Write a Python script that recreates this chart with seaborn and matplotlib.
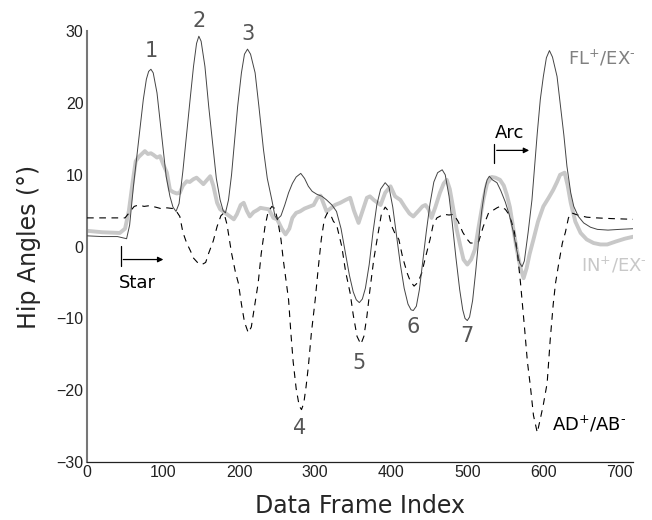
import matplotlib
matplotlib.use("Agg")
import matplotlib.pyplot as plt
import seaborn as sns
import numpy as np

# FL+/EX- (thin solid)
fl_x = [0, 20, 40, 48, 52, 56, 61, 66, 70, 74, 78, 81, 84, 87, 92, 96, 100, 104, 109, 113, 117,
        121, 126, 131, 136, 140, 144, 147, 150, 155, 160, 166, 170, 175, 179, 182,
        186, 190, 193, 198, 203, 207, 211, 215, 221, 226, 232, 237, 243, 247, 250,
        255, 260, 265, 270, 275, 281, 286, 291, 296, 302, 309, 315, 322, 328,
        334, 340, 345, 350, 354, 358, 362, 366, 371, 376, 381, 386, 392, 397, 402, 407,
        412, 417, 422, 426, 429, 433, 437, 441, 446, 451, 456, 461, 467, 471, 476, 480,
        485, 490, 494, 497, 500, 503, 507, 511, 515, 519, 523, 526, 529, 533, 539, 544,
        550, 555, 560, 565, 569, 572, 575, 580, 585, 588, 592, 596, 600, 604, 608, 612,
        618, 622, 627, 631, 636, 640, 646, 653, 662, 671, 685, 700, 719]
fl_y = [1.5, 1.4, 1.4, 1.2, 1.1, 3.0, 8.4, 13.0, 16.8, 20.5, 23.3, 24.4, 24.7, 24.2, 21.4, 17.5, 13.5, 9.8, 7.0, 5.5, 4.9,
        6.0, 10.5, 15.8, 21.0, 25.1, 28.3, 29.3, 28.6, 25.1, 19.5, 13.5, 9.5, 6.5, 5.0, 4.7,
        6.5, 10.0, 13.5, 19.5, 24.2, 26.8, 27.5, 26.8, 24.2, 19.5, 13.5, 9.5, 6.5, 4.3, 3.8,
        4.3, 5.8, 7.5, 8.8, 9.7, 10.2, 9.5, 8.4, 7.7, 7.3, 7.0, 6.5, 5.8, 4.9,
        2.5, -1.0, -4.0, -6.3, -7.4, -7.8, -7.3, -5.8, -2.5, 2.0, 5.8, 8.0, 8.9, 8.3, 5.5, 1.5,
        -2.5, -5.8, -8.0, -8.8, -8.9, -8.3, -6.0, -2.5, 2.0, 6.0, 9.0, 10.3, 10.7, 10.0, 7.0, 3.5,
        -1.5, -6.0, -8.8, -10.0, -10.3, -9.8, -7.5, -3.5, 1.0, 5.0, 8.0, 9.3, 9.8, 9.3, 8.9, 7.8,
        6.2, 4.5, 2.3, -0.5, -2.3, -2.8, -2.0, 2.0, 6.5, 10.5, 15.8, 20.5, 23.7, 26.3, 27.3, 26.4,
        23.7, 20.0, 15.5, 11.2, 7.5, 5.6, 4.2, 3.3, 2.7, 2.4, 2.3, 2.4, 2.5]

# IN+/EX- (thick light gray)
in_x = [0, 20, 43, 50, 55, 60, 64, 68, 72, 76, 80, 84, 87, 92, 96, 100, 105, 109, 113, 118,
        122, 126, 131, 135, 140, 144, 148, 153, 158, 162, 166, 171, 175, 179, 184, 188, 193,
        197, 202, 206, 210, 214, 219, 224, 228, 233, 239, 245, 250, 256, 261, 266, 270, 275,
        280, 286, 293, 298, 303, 307, 311, 315, 320, 326, 333, 340, 346, 351, 357, 363, 368,
        372, 377, 386, 392, 399, 405, 412, 418, 424, 429, 436, 441, 445, 449, 453, 458, 464,
        469, 473, 477, 482, 486, 491, 495, 500, 505, 510, 515, 521, 526, 532, 537, 543, 548,
        552, 556, 560, 565, 570, 574, 578, 582, 587, 593, 600, 607, 613, 618, 622, 626, 628,
        632, 636, 642, 649, 657, 666, 675, 684, 695, 707, 719]
in_y = [2.2, 2.0, 1.9, 2.5, 5.0, 9.0, 11.9, 12.5, 12.9, 13.3, 12.9, 13.0, 12.8, 12.4, 12.6, 11.5, 10.3, 7.9, 7.6, 7.4,
        7.5, 8.5, 9.1, 9.0, 9.4, 9.6, 9.2, 8.7, 9.3, 9.8, 8.5, 6.1, 5.2, 4.9, 4.5, 4.2, 3.8,
        4.5, 5.8, 6.1, 5.0, 4.2, 4.8, 5.1, 5.4, 5.3, 5.2, 4.0, 3.8, 2.5, 1.7, 2.5, 4.0, 4.7,
        4.9, 5.3, 5.6, 5.8, 6.8, 7.1, 6.0, 4.9, 5.3, 5.8, 6.1, 6.5, 6.8, 5.0, 3.3, 5.2, 6.8,
        7.0, 6.5, 5.8, 7.5, 8.4, 7.0, 6.5, 5.5, 4.6, 4.2, 5.0, 5.6, 5.8, 5.2, 4.0, 5.5, 7.5,
        8.8, 9.3, 8.0, 5.0, 2.4, 0.0, -1.8, -2.5, -1.8, -0.4, 2.8, 6.5, 8.8, 9.7, 9.6, 9.3, 8.5,
        7.2, 5.5, 2.8, -0.4, -3.0, -4.4, -3.0, -1.0, 1.0, 3.5, 5.6, 6.8, 7.9, 9.0, 10.0, 10.2, 10.3,
        8.5, 6.1, 3.5, 1.9, 1.0, 0.5, 0.3, 0.3, 0.7, 1.1, 1.4]

# AD+/AB- (dashed)
ad_x = [0, 20, 40, 50, 56, 62, 68, 75, 82, 90, 97, 105, 113, 117, 122, 126, 131, 136, 140, 146,
        151, 156, 160, 166, 171, 176, 180, 184, 190, 195, 199, 203, 207, 212, 216, 220, 225,
        229, 234, 238, 243, 247, 251, 255, 258, 262, 265, 268, 271, 275, 279, 282, 285, 288,
        291, 295, 300, 304, 308, 312, 316, 320, 324, 328, 335, 340, 346, 350, 355, 360, 364,
        368, 372, 377, 382, 387, 392, 396, 400, 405, 410, 415, 421, 425, 430, 435, 440, 445,
        451, 455, 460, 469, 476, 482, 488, 494, 500, 504, 510, 515, 521, 528, 533, 539, 543,
        550, 554, 558, 562, 566, 570, 575, 579, 583, 587, 592, 596, 600, 605, 609, 613, 616,
        620, 625, 629, 633, 637, 645, 657, 670, 690, 719]
ad_y = [4.0, 4.0, 4.0, 4.0, 4.8, 5.6, 5.8, 5.6, 5.7, 5.5, 5.3, 5.4, 5.3, 5.0, 4.2, 2.0, 0.5, -0.6, -1.6, -2.3,
        -2.5, -2.2, -0.9, 0.8, 2.8, 4.3, 4.7, 3.1, -0.9, -3.5, -5.1, -8.0, -10.5, -12.0, -11.2, -8.5, -5.1,
        -1.0, 2.8, 4.8, 5.6, 5.3, 3.5, 1.0, -1.8, -5.0, -7.4, -12.0, -16.0, -19.8, -22.2, -22.7, -21.8, -19.5,
        -16.7, -12.0, -7.4, -3.0, 1.0, 3.8, 4.7, 4.5, 3.5, 3.1, 0.0, -3.5, -6.5, -9.5, -12.5, -13.6, -12.5,
        -9.7, -6.0, -1.8, 1.4, 4.5, 5.5, 5.0, 3.0, 1.8, 1.0, -1.5, -3.7, -4.8, -5.5, -5.0, -3.7, -1.5,
        1.0, 3.0, 4.0, 4.5, 4.4, 4.5, 3.5, 2.0, 1.0, 0.5, 0.5, 0.7, 2.8, 4.7, 5.0, 5.4, 5.6,
        5.2, 4.6, 3.5, 2.0, -1.0, -5.1, -11.0, -16.0, -19.5, -23.5, -25.9, -24.0, -22.0, -19.0, -13.0, -8.0, -5.1,
        -2.5, 0.5, 2.0, 4.0, 4.7, 4.4, 4.1, 4.0, 3.9, 3.8]

peak_labels = ["1", "2", "3", "4", "5", "6", "7"]
peak_lx = [84, 147, 211, 279, 358, 429, 500]
peak_ly = [27.2, 31.4, 29.6, -25.3, -16.2, -11.2, -12.5]

x_ticks = [0, 100, 200, 300, 400, 500, 600, 700]
y_ticks = [-30, -20, -10, 0, 10, 20, 30]

sns.set_style("white")
plt.rcParams["font.family"] = ["DejaVu Sans"]
plt.rcParams["mathtext.fontset"] = "dejavusans"

fig = plt.figure(figsize=(6.52, 5.2), dpi=100)
ax = fig.add_axes([0.1335, 0.1115, 0.8375, 0.8285])

sns.lineplot(x=in_x, y=in_y, ax=ax, color="#c8c8c8", linewidth=2.8, zorder=2)
sns.lineplot(x=ad_x, y=ad_y, ax=ax, color="black", linewidth=0.8, dashes=False, zorder=3)
ax.lines[-1].set_dashes((6, 5))
sns.lineplot(x=fl_x, y=fl_y, ax=ax, color="#444444", linewidth=0.7, zorder=4)

ax.set_xlim(0, 718)
ax.set_ylim(-30, 30)
ax.set_xticks(x_ticks)
ax.set_yticks(y_ticks)
ax.tick_params(direction="in", length=4, width=0.8, colors="#222222", labelsize=11.5,
               pad=2.5, labelfontfamily="Liberation Sans")
for s in ["top", "right"]:
    ax.spines[s].set_visible(False)
ax.spines["left"].set_color("#777777")
ax.spines["left"].set_linewidth(1.5)
ax.spines["bottom"].set_color("#222222")
ax.spines["bottom"].set_linewidth(0.9)

ax.set_xlabel("Data Frame Index", fontsize=17, labelpad=10)
ax.set_ylabel("Hip Angles (°)", fontsize=17, labelpad=11)

for t, xx, yy in zip(peak_labels, peak_lx, peak_ly):
    ax.text(xx, yy, t, fontsize=15, color="#555555", ha="center", va="center")

ax.text(632, 26.2, r"FL$^{+}$/EX$^{\text{-}}$", fontsize=13, color="#808080", ha="left", va="center")
ax.text(649, -2.5, r"IN$^{+}$/EX$^{\text{-}}$", fontsize=13, color="#c8c8c8", ha="left", va="center")
ax.text(612, -24.7, r"AD$^{+}$/AB$^{\text{-}}$", fontsize=13, color="black", ha="left", va="center")

# Star annotation
ax.plot([44, 44], [0.1, -2.7], color="black", lw=0.9)
ax.annotate("", xy=(104, -1.8), xytext=(44, -1.8),
            arrowprops=dict(arrowstyle="-|>", color="black", lw=0.9, mutation_scale=8))
ax.text(42.5, -5.0, "Star", fontsize=13, color="black", ha="left", va="center")

# Arc annotation
ax.plot([535, 535], [14.3, 11.6], color="black", lw=0.9)
ax.annotate("", xy=(585, 13.4), xytext=(535, 13.4),
            arrowprops=dict(arrowstyle="-|>", color="black", lw=0.9, mutation_scale=8))
ax.text(536, 15.8, "Arc", fontsize=13, color="black", ha="left", va="center")

fig.savefig("out.png", dpi=100)
